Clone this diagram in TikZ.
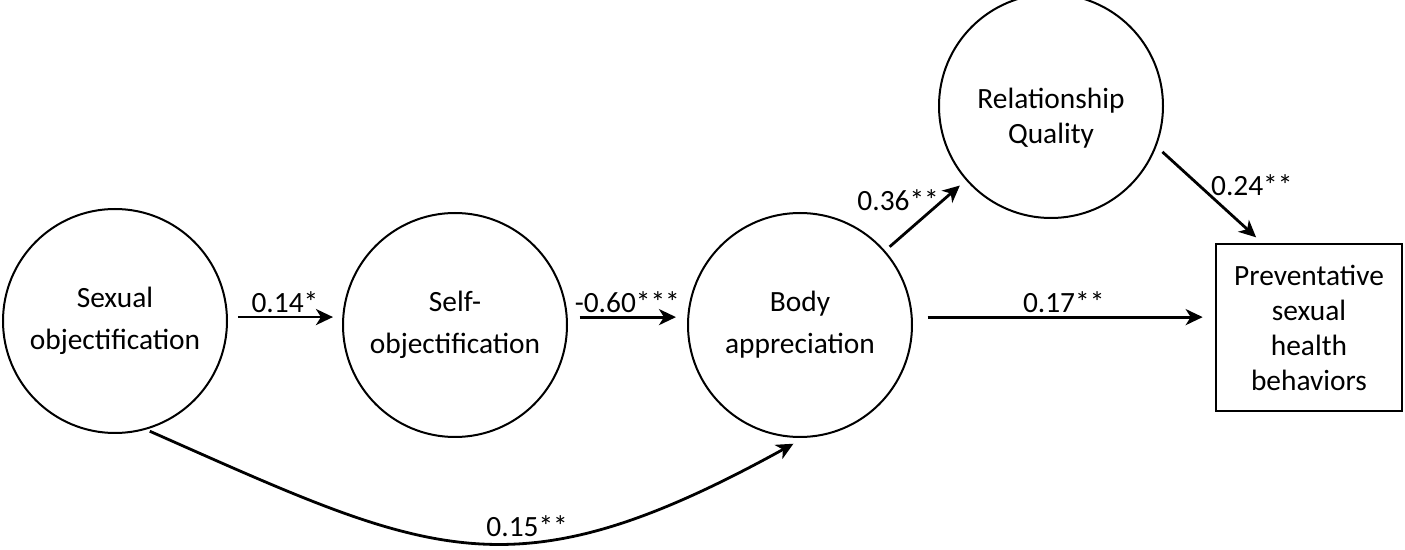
\documentclass[tikz,border=0pt]{standalone}
\usepackage{fontspec}
\setmainfont{Carlito}
\usetikzlibrary{positioning,arrows.meta}
\tikzset{
  latent/.style={circle,draw=black,line width=1pt,minimum size=112pt,inner sep=0pt,
    align=center,font=\fontsize{14.7}{21}\selectfont},
  observed/.style={rectangle,draw=black,line width=1.3pt,minimum width=93pt,
    minimum height=83.5pt,inner sep=0pt,align=center,font=\fontsize{14.7}{17.5}\selectfont},
  effect/.style={-{Stealth[length=8.5pt,width=8pt,inset=2.5pt]},line width=1.4pt},
  coef/.style={inner sep=1.5pt,font=\fontsize{14.7}{17}\selectfont},
}

\begin{document}
\begin{tikzpicture}[x=0.5pt,y=-0.5pt]
    \useasboundingbox (0,0) rectangle (1405,550);
    \node[latent] (sexobj) at (115,321) {Sexual\\objectification};
    \node[latent] (selfobj) at (455,325) {Self-\\objectification};
    \node[latent] (bodyapp) at (800,325) {Body\\appreciation};
    \node[latent,label={[align=center,yshift=-6pt,font=\fontsize{14.7}{17.5}\selectfont]center:Relationship\\Quality}] (relqual) at (1051,106) {};
    \node[observed] (prevent) at (1309,327.5) {Preventative\\sexual\\health\\behaviors};
    \draw[effect,shorten <=5pt,shorten >=4.5pt] (sexobj.2.5) -- (sexobj.2.5 -| selfobj.west) node[coef,midway,above] {0.14*};
    \draw[effect,shorten <=6pt,shorten >=5.5pt] (selfobj.4) -- (selfobj.4 -| bodyapp.west) node[coef,midway,above] {-0.60***};
    \draw[effect,shorten <=7.5pt,shorten >=6pt] (bodyapp.4) -- (bodyapp.4 -| prevent.west) node[coef,midway,above] {0.17**};
    \draw[effect,shorten <=3pt,shorten >=4pt] (bodyapp) -- (relqual) node[coef,pos=0.72,left] {0.36**};
    \draw[effect,shorten <=4pt,shorten >=4pt] (relqual.-21) -- ([xshift=-23.5pt]prevent.north) node[coef,pos=0.4,right,xshift=4pt] {0.24**};
    \draw[effect,shorten <=2pt,shorten >=6pt] (sexobj.-74) .. controls (430,555) and (510,600) .. (bodyapp.-88) node[coef,pos=0.6,above] {0.15**};
  \end{tikzpicture}
\end{document}
